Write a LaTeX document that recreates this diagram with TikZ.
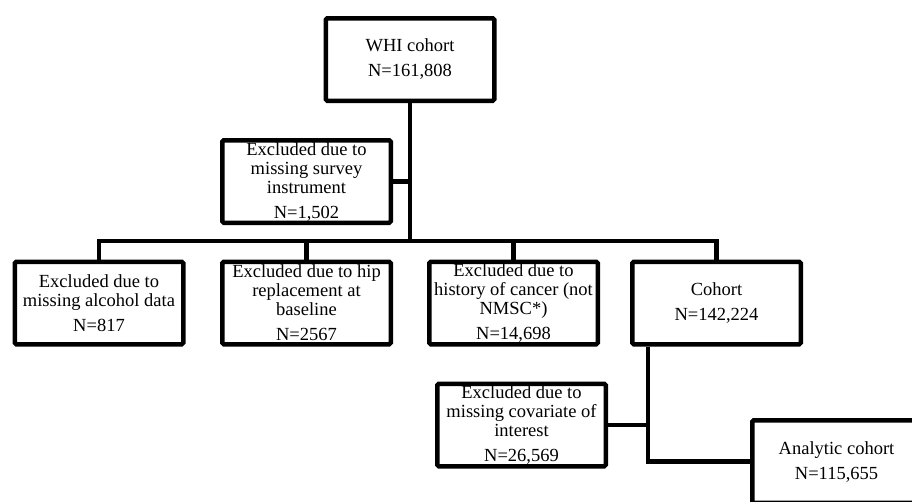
\documentclass[tikz,border=0pt]{standalone}
\usepackage{fontspec}
\setmainfont{Liberation Serif}
\usetikzlibrary{calc}

\begin{document}
\begin{tikzpicture}[x=1pt,y=-1pt]
\tikzset{BoxStyle/.style = {draw, line width=4.5pt, rounded corners=1.5pt, align=center, minimum width=168.5pt, minimum height=82.5pt, inner sep=0pt, font=\fontsize{18.5}{19}\selectfont},
  LinkStyle/.style = {line width=4.5pt}
}
    \useasboundingbox (0,0) rectangle (912,501);
    \clip (0,0) rectangle (912,501);

   % Boxes
   \node[BoxStyle] (whi) at (410,59.5) {WHI cohort\\[6pt]N=161,808};
   \node[BoxStyle] (survey) at (306.5,181.5) {Excluded due to\\missing survey\\instrument\\[6pt]N=1,502};

   \node[BoxStyle] (alcohol) at (99,303) {Excluded due to\\missing alcohol data\\[6pt]N=817};
   \node[BoxStyle] (hip) at (306.5,303) {Excluded due to hip\\replacement at\\baseline\\[6pt]N=2567};
   \node[BoxStyle] (cancer) at (513.5,303) {Excluded due to\\history of cancer (not\\NMSC*)\\[6pt]N=14,698};
   \node[BoxStyle] (cohort) at (716.5,303) {Cohort\\[6pt]N=142,224};

   \node[BoxStyle] (covar) at (521.5,425) {Excluded due to\\missing covariate of\\interest\\[6pt]N=26,569};
   \node[BoxStyle] (analytic) at (836.5,461.5) {Analytic cohort\\[6pt]N=115,655};

   % Draw links
   \coordinate (bus) at (0,241);
   \coordinate (trunk) at (648,0);
   \draw[LinkStyle] (whi.south) -- (whi.south |- bus);
   \draw[LinkStyle] (survey.east) -- (survey.east -| whi.south);
   \draw[LinkStyle] (alcohol.north) -- (alcohol.north |- bus) -| (cohort.north);
   \draw[LinkStyle] (hip.north) -- (hip.north |- bus);
   \draw[LinkStyle] (cancer.north) -- (cancer.north |- bus);
   \draw[LinkStyle] (trunk |- cohort.south) -- (trunk |- analytic.west) -- (analytic.west);
   \draw[LinkStyle] (covar.east) -- (covar.east -| trunk);
\end{tikzpicture}
\end{document}
